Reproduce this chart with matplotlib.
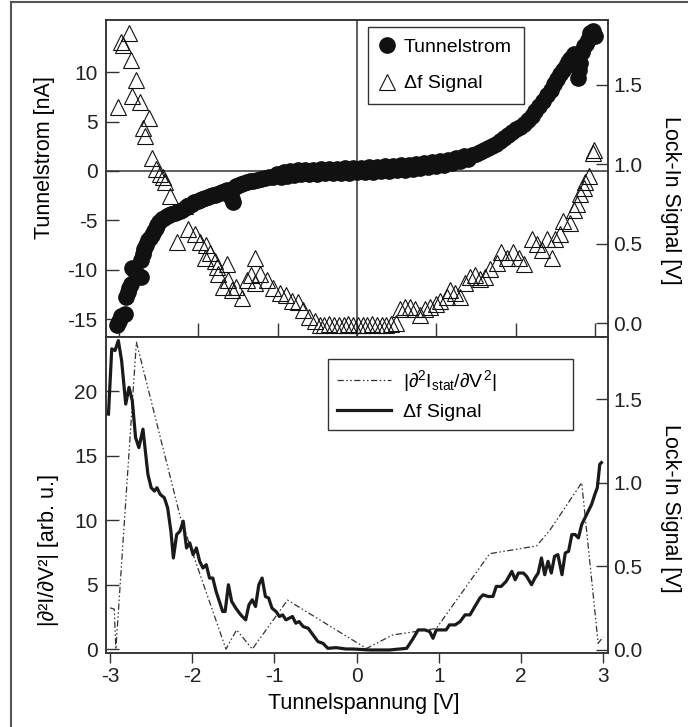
import matplotlib.pyplot as plt
from matplotlib.lines import Line2D
from matplotlib.ticker import FormatStrFormatter

plt.rcParams['font.family'] = ['Liberation Sans', 'DejaVu Sans']
plt.rcParams['mathtext.fontset'] = 'custom'
plt.rcParams['mathtext.rm'] = 'Liberation Sans'
plt.rcParams['mathtext.it'] = 'Liberation Sans'
plt.rcParams['mathtext.bf'] = 'Liberation Sans:bold'
plt.rcParams['axes.unicode_minus'] = False

# --- oben: I(V) Kurve (Kreise, linke Achse) ---
iv_volt = [-3.03, -3.00, -2.97, -2.93, -2.91, -2.89, -2.87, -2.85, -2.84, -2.81,
           -2.78, -2.75, -2.72, -2.72, -2.70, -2.68, -2.66, -2.63, -2.61, -2.59,
           -2.56, -2.54, -2.52, -2.49, -2.46, -2.43, -2.40, -2.37, -2.34, -2.30,
           -2.27, -2.23, -2.20, -2.17, -2.14, -2.11, -2.08, -2.05, -2.01, -1.98,
           -1.95, -1.92, -1.88, -1.85, -1.82, -1.79, -1.76, -1.73, -1.70, -1.67,
           -1.64, -1.61, -1.58, -1.56, -1.55, -1.52, -1.49, -1.46, -1.43, -1.39,
           -1.35, -1.31, -1.26, -1.21, -1.16, -1.11, -1.06, -1.01, -0.96, -0.92,
           -0.88, -0.84, -0.80, -0.75, -0.70, -0.65, -0.60, -0.55, -0.51, -0.45,
           -0.40, -0.35, -0.30, -0.25, -0.20, -0.15, -0.10, -0.05, 0.00, 0.05,
           0.10, 0.15, 0.20, 0.25, 0.30, 0.35, 0.40, 0.45, 0.50, 0.55,
           0.60, 0.65, 0.70, 0.75, 0.80, 0.85, 0.90, 0.95, 1.00, 1.05,
           1.10, 1.15, 1.20, 1.25, 1.30, 1.35, 1.40, 1.45, 1.50, 1.55,
           1.60, 1.65, 1.70, 1.75, 1.80, 1.85, 1.90, 1.95, 2.00, 2.05,
           2.10, 2.15, 2.20, 2.25, 2.30, 2.35, 2.40, 2.44, 2.48, 2.52,
           2.56, 2.60, 2.63, 2.66, 2.69, 2.72, 2.74, 2.79, 2.80, 2.81,
           2.84, 2.86, 2.89, 2.91, 2.94, 2.96, 2.98, 3.00]
iv_curr = [-15.6, -15.2, -14.7, -14.5, -12.8, -12.2, -11.8, -11.4, -9.8, -10.0,
           -10.3, -10.6, -10.7, -9.0, -8.4, -7.9, -7.5, -7.0, -6.8, -6.5,
           -6.1, -5.8, -5.5, -5.2, -4.9, -4.8, -4.6, -4.5, -4.4, -4.3,
           -4.2, -4.05, -3.9, -3.7, -3.55, -3.4, -3.3, -3.15, -3.0, -2.9,
           -2.8, -2.75, -2.65, -2.55, -2.45, -2.4, -2.3, -2.25, -2.1, -2.0,
           -1.9, -2.4, -2.8, -3.1, -1.7, -1.55, -1.45, -1.35, -1.25, -1.15,
           -1.05, -0.98, -0.9, -0.8, -0.72, -0.64, -0.57, -0.3, -0.6, -0.15,
           -0.5, -0.05, -0.4, 0.05, -0.35, 0.1, -0.3, 0.15, -0.3, 0.2,
           -0.25, 0.25, -0.25, 0.25, -0.2, 0.3, -0.2, 0.3, -0.15, 0.35,
           -0.1, 0.4, -0.1, 0.45, -0.05, 0.5, 0.0, 0.55, 0.05, 0.6,
           0.15, 0.65, 0.2, 0.75, 0.3, 0.8, 0.4, 0.9, 0.5, 1.0,
           0.65, 1.15, 0.8, 1.3, 1.0, 1.5, 1.25, 1.6, 1.7, 1.9,
           2.1, 2.3, 2.5, 2.75, 3.0, 3.3, 3.6, 3.9, 4.2, 4.5,
           4.8, 5.2, 5.6, 6.1, 6.6, 7.1, 7.7, 8.2, 8.8, 9.3,
           9.8, 10.2, 10.6, 11.0, 11.3, 11.6, 11.8, 9.4, 10.2, 10.9,
           12.0, 12.6, 12.9, 13.3, 14.0, 14.1, 14.2, 13.7]

# --- oben: Delta f Signal (Dreiecke, rechte Achse) ---
tri_volt = [-3.01, -2.98, -2.95, -2.88, -2.85, -2.84, -2.78, -2.74, -2.70, -2.67,
            -2.62, -2.59, -2.53, -2.48, -2.45, -2.42, -2.36, -2.27, -2.17, -2.13,
            -2.04, -1.98, -1.92, -1.90, -1.85, -1.79, -1.77, -1.75, -1.69, -1.64,
            -1.62, -1.58, -1.52, -1.45, -1.39, -1.33, -1.29, -1.29, -1.22, -1.14,
            -1.06, -0.97, -0.89, -0.82, -0.74, -0.68, -0.61, -0.53,
            -0.47, -0.41, -0.35, -0.29, -0.23, -0.17, -0.11, -0.05, 0.01, 0.07,
            0.13, 0.19, 0.25, 0.31, 0.37, 0.43, 0.49,
            0.54, 0.61, 0.67, 0.73, 0.79, 0.86, 0.92, 1.00, 1.05, 1.13,
            1.17, 1.24, 1.30, 1.36, 1.42, 1.49, 1.55, 1.61, 1.68, 1.76,
            1.82, 1.89, 1.97, 2.04, 2.10, 2.20, 2.27, 2.33, 2.39, 2.46,
            2.50, 2.56, 2.60, 2.69, 2.73, 2.77, 2.81, 2.86, 2.88, 2.92,
            2.97, 2.99]
tri_sig = [1.36, 1.77, 1.75, 1.825, 1.66, 1.43, 1.53, 1.39, 1.23, 1.18,
           1.29, 1.04, 0.97, 0.94, 0.92, 0.89, 0.80, 0.51, 0.74, 0.59,
           0.56, 0.51, 0.41, 0.49, 0.44, 0.39, 0.35, 0.31, 0.23, 0.37,
           0.27, 0.21, 0.23, 0.16, 0.27, 0.30, 0.41, 0.25, 0.31, 0.27,
           0.22, 0.19, 0.175, 0.14, 0.13, 0.08, 0.04, 0.01,
           -0.01, -0.015, -0.005, -0.01, -0.015, -0.01, -0.005, -0.015, -0.01, -0.01,
           -0.015, -0.005, -0.01, -0.015, -0.01, -0.005, 0.0,
           0.09, 0.10, 0.10, 0.09, 0.05, 0.09, 0.10, 0.12, 0.14, 0.165,
           0.21, 0.19, 0.165, 0.25, 0.29, 0.30, 0.28, 0.29, 0.34, 0.38,
           0.45, 0.41, 0.45, 0.41, 0.37, 0.53, 0.50, 0.46, 0.53, 0.41,
           0.53, 0.56, 0.64, 0.63, 0.71, 0.75, 0.81, 0.85, 0.89, 0.925,
           1.07, 1.09]

# --- unten: |d2I/dV2| (strichpunktiert, linke Achse) ---
d2i_volt = [-3.00, -2.95, -2.93, -2.68, -2.14, -1.59, -1.46, -1.27, -0.84, 0.12,
            0.44, 0.97, 1.62, 2.19, 2.35, 2.74, 2.94, 3.00]
d2i_val = [3.2, 3.1, 0.0, 23.8, 10.1, 0.0, 1.5, 0.0, 3.8, 0.05,
           1.1, 1.6, 7.4, 8.0, 9.2, 12.9, 0.45, 0.95]

# --- unten: Delta f Signal (durchgezogen, rechte Achse) ---
lock_volt = [-3.02, -2.98, -2.94, -2.90, -2.86, -2.81, -2.77, -2.73, -2.69, -2.65,
             -2.60, -2.54, -2.50, -2.46, -2.43, -2.39, -2.34, -2.30, -2.26, -2.23,
             -2.19, -2.15, -2.11, -2.07, -2.03, -1.99, -1.95, -1.91, -1.87, -1.83,
             -1.79, -1.75, -1.71, -1.67, -1.63, -1.60, -1.56, -1.52, -1.47, -1.41,
             -1.35, -1.31, -1.27, -1.23, -1.19, -1.15, -1.11, -1.07, -1.03, -0.98,
             -0.94, -0.90, -0.86, -0.82, -0.78, -0.74, -0.70, -0.65, -0.59, -0.53,
             -0.47, -0.41, -0.35, -0.25, -0.13, -0.05, 0.16, 0.40, 0.61, 0.69,
             0.75, 0.83, 0.89, 0.93, 0.97, 1.03, 1.09, 1.13, 1.20, 1.26,
             1.32, 1.38, 1.44, 1.50, 1.54, 1.60, 1.66, 1.70, 1.76, 1.82,
             1.89, 1.93, 1.97, 2.03, 2.07, 2.13, 2.17, 2.21, 2.25, 2.29,
             2.33, 2.37, 2.41, 2.45, 2.50, 2.54, 2.58, 2.62, 2.66, 2.70,
             2.74, 2.78, 2.82, 2.86, 2.90, 2.93, 2.96, 2.98]
lock_sig = [1.41, 1.80, 1.79, 1.85, 1.73, 1.47, 1.57, 1.49, 1.27, 1.21,
            1.32, 1.05, 0.97, 0.95, 0.97, 0.93, 0.91, 0.85, 0.71, 0.55,
            0.69, 0.71, 0.77, 0.61, 0.64, 0.57, 0.61, 0.53, 0.49, 0.51,
            0.43, 0.43, 0.35, 0.29, 0.23, 0.23, 0.39, 0.29, 0.25, 0.21,
            0.18, 0.27, 0.30, 0.26, 0.39, 0.43, 0.32, 0.31, 0.25, 0.23,
            0.20, 0.21, 0.18, 0.19, 0.20, 0.16, 0.17, 0.14, 0.13, 0.09,
            0.05, 0.04, 0.01, 0.014, 0.006, 0.006, 0.0, 0.0, 0.01, 0.07,
            0.12, 0.12, 0.11, 0.07, 0.12, 0.12, 0.12, 0.15, 0.15, 0.17,
            0.21, 0.21, 0.26, 0.31, 0.33, 0.32, 0.32, 0.38, 0.38, 0.41,
            0.47, 0.42, 0.46, 0.46, 0.44, 0.39, 0.43, 0.46, 0.55, 0.45,
            0.53, 0.46, 0.56, 0.57, 0.45, 0.58, 0.59, 0.69, 0.69, 0.67,
            0.75, 0.79, 0.83, 0.87, 0.93, 0.97, 1.11, 1.12]

dark = '#333333'
W, H = 688, 727

fig = plt.figure(figsize=(W / 100, H / 100), dpi=100)
ax1 = fig.add_axes([106 / W, 1 - 337 / H, 502 / W, 317 / H])
ax1r = ax1.twinx()
ax2 = fig.add_axes([106 / W, 1 - 653 / H, 502 / W, 316 / H])
ax2r = ax2.twinx()

# oben
ax1.axhline(0, color=dark, lw=1.1, zorder=1)
ax1.axvline(0, color=dark, lw=1.1, zorder=1)
ax1.plot(iv_volt, iv_curr, 'o', color='#111111', ms=11, mec='#111111', zorder=3)
ax1r.plot(tri_volt, tri_sig, '^', mfc='none', mec='#111111', mew=0.8, ms=12)
ax1.set_xlim(-3.164, 3.164)
ax1.set_ylim(-16.8, 15.28)
ax1r.set_ylim(-0.088, 1.909)
ax1.set_xticks([-3, -2, -1, 0, 1, 2, 3])
ax1.set_yticks([-15, -10, -5, 0, 5, 10])
ax1r.set_yticks([0, 0.5, 1.0, 1.5])
ax1r.yaxis.set_major_formatter(FormatStrFormatter('%.1f'))
ax1.tick_params(axis='x', direction='in', length=10, labelbottom=False)
ax1.tick_params(axis='y', direction='in', length=9, pad=6)
ax1r.tick_params(axis='y', direction='in', length=9, pad=4)

# unten
ax2.plot(d2i_volt, d2i_val, color=dark, lw=0.9, dashes=(5, 2, 1.2, 2, 1.2, 2))
ax2r.plot(lock_volt, lock_sig, color='#1a1a1a', lw=2.3)
ax2.set_xlim(-3.05, 3.06)
ax2.set_ylim(-0.3, 24.2)
ax2r.set_ylim(-0.018, 1.871)
ax2.set_xticks([-3, -2, -1, 0, 1, 2, 3])
ax2.set_yticks([0, 5, 10, 15, 20])
ax2r.set_yticks([0, 0.5, 1.0, 1.5])
ax2r.yaxis.set_major_formatter(FormatStrFormatter('%.1f'))
ax2.tick_params(axis='x', direction='out', length=7, pad=3)
ax2.tick_params(axis='y', direction='in', length=9, pad=6)
ax2r.tick_params(axis='y', direction='in', length=9, pad=4)

for a in [ax1, ax1r, ax2, ax2r]:
    for s in a.spines.values():
        s.set_color(dark)
        s.set_linewidth(1.1)
    a.tick_params(colors=dark, labelcolor='#222222', labelsize=15, width=1.0)

# Legenden
h_top = [Line2D([], [], marker='o', ls='none', color='#111111', ms=11),
         Line2D([], [], marker='^', ls='none', mfc='none', mec='#111111', mew=0.8, ms=12)]
leg1 = ax1r.legend(h_top, ['Tunnelstrom', 'Δf Signal'], loc='upper left',
                   bbox_to_anchor=(0.522, 0.978), borderaxespad=0, fontsize=14,
                   fancybox=False, edgecolor=dark, framealpha=1,
                   handlelength=0.8, handletextpad=0.45, labelspacing=0.95, borderpad=0.6)
leg1.get_frame().set_linewidth(1.0)

h_bot = [Line2D([], [], color=dark, lw=0.9, dashes=(5, 2, 1.2, 2, 1.2, 2)),
         Line2D([], [], color='#1a1a1a', lw=2.3)]
leg2 = ax2r.legend(h_bot, [r'$|\partial^2 I_{\mathrm{stat}}/\partial V^2|$', 'Δf Signal'],
                   loc='upper left', bbox_to_anchor=(0.442, 0.728, 0.488, 0.202),
                   mode='expand', borderaxespad=0,
                   fontsize=14, fancybox=False, edgecolor=dark, framealpha=1,
                   handlelength=2.8, handletextpad=0.6, labelspacing=0.5, borderpad=0.45)
leg2.get_frame().set_linewidth(1.0)

# Achsenbeschriftungen
fig.text(45 / W, 1 - 158 / H, 'Tunnelstrom [nA]', rotation=90, ha='center', va='center', fontsize=15.5)
fig.text(671 / W, 1 - 200 / H, 'Lock-In Signal [V]', rotation=270, ha='center', va='center', fontsize=15.5)
fig.text(49 / W, 1 - 550 / H, '|∂²I/∂V²| [arb. u.]', rotation=90, ha='center', va='center', fontsize=15.5)
fig.text(671 / W, 1 - 508 / H, 'Lock-In Signal [V]', rotation=270, ha='center', va='center', fontsize=15.5)
fig.text(364 / W, 1 - 703 / H, 'Tunnelspannung [V]', ha='center', va='center', fontsize=15.5)

# Rahmen oben/links
fig.add_artist(Line2D([11 / W, 1], [1 - 2 / H, 1 - 2 / H], transform=fig.transFigure, color='#555555', lw=1.5))
fig.add_artist(Line2D([11 / W, 11 / W], [0, 1 - 2 / H], transform=fig.transFigure, color='#555555', lw=1.5))

plt.savefig('out.png', dpi=100)
